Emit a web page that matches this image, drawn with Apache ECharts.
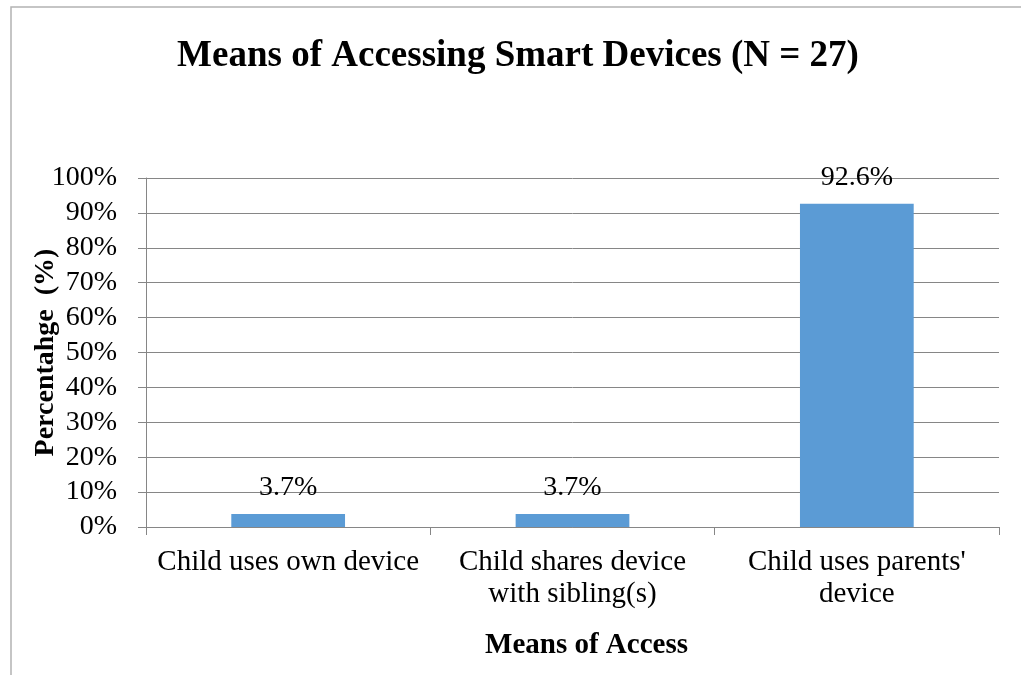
<!DOCTYPE html>
<html>
<head>
<meta charset="utf-8">
<script src="https://cdn.jsdelivr.net/npm/echarts@6/dist/echarts.min.js"></script>
<style>
  html, body { margin: 0; padding: 0; background: #fff; }
  #chart { width: 1021px; height: 675px; }
</style>
</head>
<body>
<div id="chart"></div>
<script>
// Survey results: how children get access to smart devices
const categories = [
  "Child uses own device",
  "Child shares device\nwith sibling(s)",
  "Child uses parents'\ndevice"
];
const percentages = [3.7, 3.7, 92.6];
const yTicks = { min: 0, max: 100, interval: 10 };

const serif = "'Liberation Serif', 'Times New Roman', serif";
const chart = echarts.init(document.getElementById('chart'), null, { renderer: 'canvas' });

chart.setOption({
  animation: false,
  backgroundColor: '#ffffff',
  graphic: [{
    type: 'rect',
    shape: { x: 11, y: 7, width: 1030, height: 700 },
    style: { fill: 'none', stroke: '#b3b3b3', lineWidth: 1.5 },
    silent: true
  }],
  title: {
    text: 'Means of Accessing Smart Devices (N = 27)',
    left: 513, top: 33, textAlign: 'center',
    textStyle: { fontFamily: serif, fontWeight: 'bold', fontSize: 37, color: '#000' }
  },
  grid: { left: 146, right: 22, top: 178, bottom: 148, containLabel: false },
  xAxis: {
    type: 'category',
    data: categories,
    name: 'Means of Access',
    nameLocation: 'middle',
    nameGap: 104,
    nameMoveOverlap: false,
    nameTextStyle: {
      fontFamily: serif, fontWeight: 'bold', fontSize: 29, color: '#000',
      padding: [0, 0, 0, 28]
    },
    axisLine: { lineStyle: { color: '#868686', width: 1 } },
    axisTick: { show: true, length: 8, lineStyle: { color: '#868686' } },
    axisLabel: {
      fontFamily: serif, fontSize: 29, color: '#000', margin: 19, lineHeight: 32,
      interval: 0, hideOverlap: false
    }
  },
  yAxis: {
    type: 'value',
    min: yTicks.min, max: yTicks.max, interval: yTicks.interval,
    name: 'Percentahge  (%)',
    nameLocation: 'middle',
    nameGap: 86,
    nameRotate: 90,
    nameMoveOverlap: false,
    nameTextStyle: { fontFamily: serif, fontWeight: 'bold', fontSize: 28, color: '#000' },
    axisLine: { show: true, lineStyle: { color: '#868686', width: 1 } },
    axisTick: { show: true, inside: false, length: 8, lineStyle: { color: '#868686' } },
    axisLabel: { fontFamily: serif, fontSize: 28, color: '#000', margin: 29, formatter: '{value}%' },
    splitLine: { show: true, lineStyle: { color: '#868686', width: 1 } }
  },
  series: [{
    type: 'bar',
    data: percentages,
    barCategoryGap: '60%',
    itemStyle: { color: '#5b9bd5' },
    label: {
      show: true, position: 'top', distance: 12,
      fontFamily: serif, fontSize: 28, color: '#000',
      formatter: p => p.value.toFixed(1) + '%'
    }
  }]
});
</script>
</body>
</html>
